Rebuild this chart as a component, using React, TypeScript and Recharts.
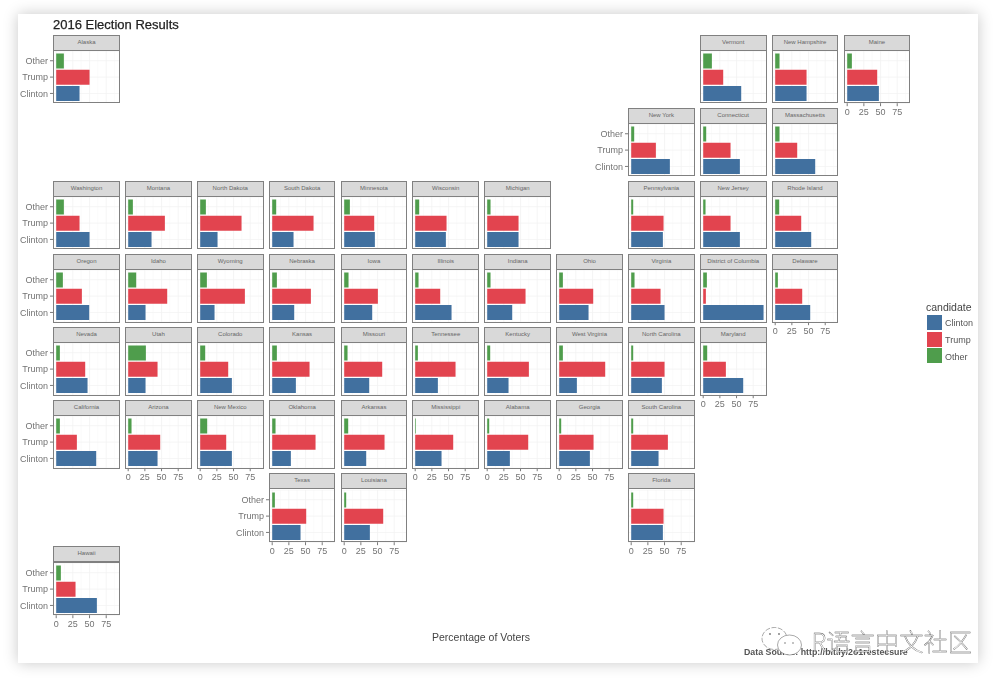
import React from "react";
import { BarChart, Bar, XAxis, YAxis, CartesianGrid, Cell } from "recharts";

const FONT = "'Liberation Sans', Arial, sans-serif";

const candidateOrder = ["Other", "Trump", "Clinton"];
const legendOrder = ["Clinton", "Trump", "Other"];
const xTicks = [0, 25, 50, 75];
const xMinorTicks = [12.5, 37.5, 62.5, 87.5];

const states = [
  "Alaska", "Vermont", "New Hampshire", "Maine",
  "New York", "Connecticut", "Massachusetts",
  "Washington", "Montana", "North Dakota", "South Dakota", "Minnesota", "Wisconsin", "Michigan", "Pennsylvania", "New Jersey", "Rhode Island",
  "Oregon", "Idaho", "Wyoming", "Nebraska", "Iowa", "Illinois", "Indiana", "Ohio", "Virginia", "District of Columbia", "Delaware",
  "Nevada", "Utah", "Colorado", "Kansas", "Missouri", "Tennessee", "Kentucky", "West Virginia", "North Carolina", "Maryland",
  "California", "Arizona", "New Mexico", "Oklahoma", "Arkansas", "Mississippi", "Alabama", "Georgia", "South Carolina",
  "Texas", "Louisiana", "Florida",
  "Hawaii",
];

const clintonPct = [
  35, 57, 47, 47.5,
  58, 55, 60,
  50, 35, 26, 32, 46, 46, 47, 47.5, 55, 54,
  49.5, 26, 21.5, 33, 42, 54.5, 37.5, 44, 50, 90.5, 52.5,
  47, 26, 47.5, 35.5, 37.5, 34, 32, 26.5, 46, 60,
  60, 44, 47.5, 28, 33, 39.5, 34, 46, 41,
  42.5, 38.5, 47.5,
  61,
];

const trumpPct = [
  50, 30, 47, 45,
  37, 41, 33,
  35, 55, 62, 62, 45, 47, 47, 48.5, 41, 39,
  38.5, 58.5, 67, 58, 50.5, 37.5, 57.5, 51, 44, 4, 40.5,
  43.5, 44, 42, 56, 57, 60.5, 62.5, 69, 50, 34,
  31, 48, 39, 65, 60.5, 57, 61.5, 51.5, 55,
  51, 58.5, 48.5,
  29,
];

const otherPct = [
  11.5, 13, 6.5, 7,
  4.5, 4.5, 6.5,
  11.5, 7, 8.5, 6, 8.5, 6, 5, 3, 3.5, 6,
  10, 12, 10, 7, 6.5, 5, 5, 5.5, 5, 5.5, 4,
  5.5, 26.5, 7.5, 7, 5, 4, 4.5, 5.5, 3, 6,
  5.5, 5, 10.5, 5, 6, 1, 3, 3, 3,
  4, 3, 3,
  7,
];

// tile-grid placement of each state (layout only)
const tileColumn = [
  0, 9, 10, 11,
  8, 9, 10,
  0, 1, 2, 3, 4, 5, 6, 8, 9, 10,
  0, 1, 2, 3, 4, 5, 6, 7, 8, 9, 10,
  0, 1, 2, 3, 4, 5, 6, 7, 8, 9,
  0, 1, 2, 3, 4, 5, 6, 7, 8,
  3, 4, 8,
  0,
];
const tileRow = [
  0, 0, 0, 0,
  1, 1, 1,
  2, 2, 2, 2, 2, 2, 2, 2, 2, 2,
  3, 3, 3, 3, 3, 3, 3, 3, 3, 3, 3,
  4, 4, 4, 4, 4, 4, 4, 4, 4, 4,
  5, 5, 5, 5, 5, 5, 5, 5, 5,
  6, 6, 6,
  7,
];
const statesWithXAxis = ["Maine", "Delaware", "Maryland", "Arizona", "New Mexico", "Mississippi", "Alabama", "Georgia", "Texas", "Louisiana", "Florida", "Hawaii"];
const statesWithYAxis = ["Alaska", "New York", "Washington", "Oregon", "Nevada", "California", "Texas", "Hawaii"];

const COLORS: Record<string, string> = { Clinton: "#41709f", Trump: "#e2444f", Other: "#4f9d4c" };

const LEFT0 = 53.2;
const TOP0 = 35;
const COL_STEP = 71.85;
const ROW_STEP = 73.05;
const PANEL_W = 66.7;
const STRIP_H = 16.2;
const BODY_H = 52.2;
const Y_W = 35;
const X_H = 19;

function Tile({ index }: { index: number }) {
  const name = states[index];
  const left = LEFT0 + tileColumn[index] * COL_STEP;
  const top = TOP0 + tileRow[index] * ROW_STEP;
  const showX = statesWithXAxis.includes(name);
  const showY = statesWithYAxis.includes(name);
  const values: Record<string, number> = {
    Clinton: clintonPct[index],
    Trump: trumpPct[index],
    Other: otherPct[index],
  };
  const rows = candidateOrder.map((c) => ({ candidate: c, pct: values[c] }));
  const yw = showY ? Y_W : 0;
  const tickStyle = { fontSize: 9, fill: "#737373", fontFamily: FONT };
  return (
    <>
      <div style={{ position: "absolute", left: left - yw, top: top + STRIP_H }}>
        <BarChart
          width={PANEL_W + yw}
          height={BODY_H + (showX ? X_H : 0)}
          data={rows}
          layout="vertical"
          margin={{ top: 0, right: 0, bottom: 0, left: 0 }}
          barCategoryGap="5%"
        >
          <CartesianGrid stroke="#f8f8f8" strokeWidth={0.6} verticalValues={xMinorTicks} horizontal={false} />
          <CartesianGrid stroke="#f2f2f2" strokeWidth={0.8} verticalValues={xTicks} />
          <XAxis
            type="number"
            domain={[-4.8, 95.2]}
            ticks={xTicks}
            allowDataOverflow
            hide={!showX}
            height={X_H}
            axisLine={false}
            tickSize={3}
            tickMargin={2}
            tickLine={{ stroke: "#777" }}
            tick={tickStyle}
            interval={0}
          />
          <YAxis
            type="category"
            dataKey="candidate"
            hide={!showY}
            width={Y_W}
            padding={{ top: 1.6, bottom: 1.6 }}
            axisLine={false}
            tickSize={3}
            tickMargin={2}
            tickLine={{ stroke: "#777" }}
            tick={tickStyle}
            interval={0}
          />
          <Bar dataKey="pct" isAnimationActive={false}>
            {rows.map((r) => (
              <Cell key={r.candidate} fill={COLORS[r.candidate]} />
            ))}
          </Bar>
        </BarChart>
      </div>
      <div
        style={{
          position: "absolute",
          left,
          top,
          width: PANEL_W,
          height: STRIP_H,
          boxSizing: "border-box",
          background: "#d9d9d9",
          border: "1.2px solid #808080",
          textAlign: "center",
          fontFamily: FONT,
          fontSize: 6,
          lineHeight: `${STRIP_H - 2.4}px`,
          color: "#666",
          whiteSpace: "nowrap",
        }}
      >
        {name}
      </div>
      <div
        style={{
          position: "absolute",
          left,
          top: top + STRIP_H - 1.2,
          width: PANEL_W,
          height: BODY_H + 1.2,
          boxSizing: "border-box",
          border: "1.2px solid #808080",
          pointerEvents: "none",
        }}
      />
    </>
  );
}

function WeChatIcon() {
  return (
    <svg style={{ position: "absolute", left: 758, top: 623, width: 48, height: 36 }} viewBox="0 0 48 36">
      <ellipse cx="16.5" cy="15.5" rx="12.5" ry="11" fill="#fff" stroke="#555" strokeWidth="0.5" strokeDasharray="5 1.5" />
      <ellipse cx="31.5" cy="22" rx="12" ry="10" fill="#fff" stroke="#555" strokeWidth="0.5" />
      <circle cx="12" cy="11" r="0.9" fill="#777" />
      <circle cx="21" cy="11" r="0.9" fill="#777" />
      <circle cx="27" cy="20" r="0.8" fill="#777" />
      <circle cx="35" cy="20" r="0.8" fill="#777" />
    </svg>
  );
}

export default function App() {
  return (
    <div
      style={{
        position: "absolute",
        left: 0,
        top: 0,
        width: 1007,
        height: 686,
        overflow: "hidden",
        background: "#fff",
        fontFamily: FONT,
      }}
    >
      <div
        style={{
          position: "absolute",
          left: 18,
          top: 14,
          width: 960,
          height: 649,
          background: "#fff",
          boxShadow: "0 0 14px rgba(0,0,0,0.22)",
        }}
      />
      <div style={{ position: "absolute", left: 0, top: 0, width: 1007, height: 686, filter: "blur(0.6px)" }}>
        <div
          style={{
            position: "absolute",
            left: 53,
            top: 17,
            fontSize: 13,
            lineHeight: "16px",
            color: "#222",
            whiteSpace: "nowrap",
            WebkitTextStroke: "0.25px #222",
          }}
        >
          2016 Election Results
        </div>
        {states.map((s, i) => (
          <Tile key={s} index={i} />
        ))}
        <div style={{ position: "absolute", left: 926, top: 300, fontSize: 10.5, lineHeight: "14px", color: "#444" }}>candidate</div>
        {legendOrder.map((c, i) => (
          <React.Fragment key={c}>
            <div style={{ position: "absolute", left: 926.7, top: 314.7 + i * 16.8, width: 15, height: 15, background: COLORS[c] }} />
            <div style={{ position: "absolute", left: 945, top: 316 + i * 16.8, fontSize: 9, lineHeight: "14px", color: "#555" }}>{c}</div>
          </React.Fragment>
        ))}
        <div style={{ position: "absolute", left: 381, width: 200, top: 630, textAlign: "center", fontSize: 10.5, lineHeight: "14px", color: "#444" }}>
          Percentage of Voters
        </div>
        <div style={{ position: "absolute", left: 744, top: 646, fontSize: 8.8, lineHeight: "12px", fontWeight: 700, color: "#555", whiteSpace: "nowrap" }}>
          Data Source: http://bit.ly/2o1restecsure
        </div>
        <WeChatIcon />
        <div
          style={{
            position: "absolute",
            left: 811.5,
            top: 625,
            fontFamily: "'Noto Sans CJK SC', sans-serif",
            fontSize: 24.3,
            lineHeight: "32px",
            fontWeight: 300,
            color: "#fff",
            WebkitTextStroke: "0.3px #444",
            whiteSpace: "nowrap",
          }}
        >
          R语言中文社区
        </div>
      </div>
    </div>
  );
}
